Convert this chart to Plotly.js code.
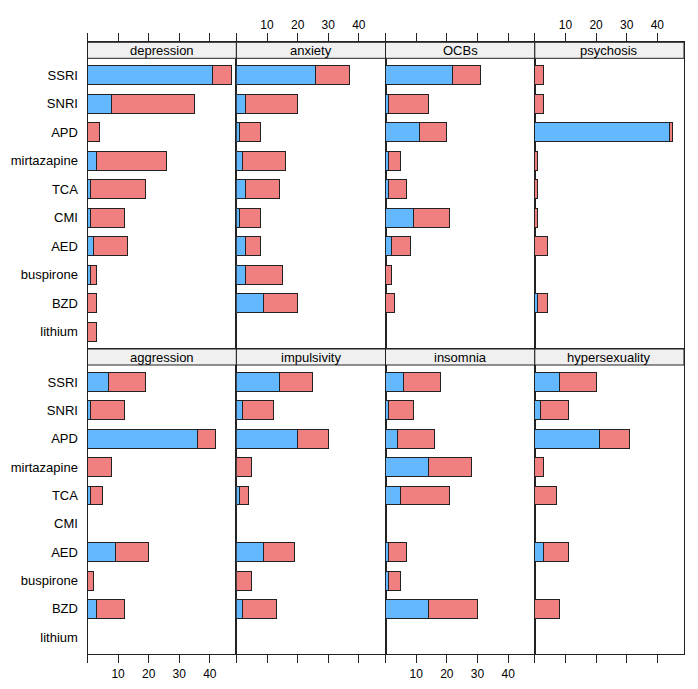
<!DOCTYPE html>
<html>
<head>
<meta charset="utf-8">
<script src="https://cdn.plot.ly/plotly-3.0.1.min.js"></script>
<style>html,body{margin:0;padding:0;background:#fff;}#chart{width:698px;height:689px;}</style>
</head>
<body>
<div id="chart"></div>
<script>
// ---- data ----
const drugs = ['SSRI','SNRI','APD','mirtazapine','TCA','CMI','AED','buspirone','BZD','lithium'];
const conditions = ['depression','anxiety','OCBs','psychosis','aggression','impulsivity','insomnia','hypersexuality'];
const tickValues = [0, 10, 20, 30, 40];
const tickLabels = ['', '10', '20', '30', '40'];

const blue_depression     = [41, 8, 0, 3, 1, 1, 2, 1, 0, 0];
const red_depression      = [6, 27, 4, 23, 18, 11, 11, 2, 3, 3];
const blue_anxiety        = [26, 3, 1, 2, 3, 1, 3, 3, 9, 0];
const red_anxiety         = [11, 17, 7, 14, 11, 7, 5, 12, 11, 0];
const blue_OCBs           = [22, 1, 11, 1, 1, 9, 2, 0, 0, 0];
const red_OCBs            = [9, 13, 9, 4, 6, 12, 6, 2, 3, 0];
const blue_psychosis      = [0, 0, 44, 0, 0, 0, 0, 0, 1, 0];
const red_psychosis       = [3, 3, 1, 1, 1, 1, 4, 0, 3, 0];
const blue_aggression     = [7, 1, 36, 0, 1, 0, 9, 0, 3, 0];
const red_aggression      = [12, 11, 6, 8, 4, 0, 11, 2, 9, 0];
const blue_impulsivity    = [14, 2, 20, 0, 1, 0, 9, 0, 2, 0];
const red_impulsivity     = [11, 10, 10, 5, 3, 0, 10, 5, 11, 0];
const blue_insomnia       = [6, 1, 4, 14, 5, 0, 1, 1, 14, 0];
const red_insomnia        = [12, 8, 12, 14, 16, 0, 6, 4, 16, 0];
const blue_hypersexuality = [8, 2, 21, 0, 0, 0, 3, 0, 0, 0];
const red_hypersexuality  = [12, 9, 10, 3, 7, 0, 8, 0, 8, 0];

const blueSeries = [blue_depression, blue_anxiety, blue_OCBs, blue_psychosis,
                    blue_aggression, blue_impulsivity, blue_insomnia, blue_hypersexuality];
const redSeries  = [red_depression, red_anxiety, red_OCBs, red_psychosis,
                    red_aggression, red_impulsivity, red_insomnia, red_hypersexuality];

// ---- layout geometry (pixels) ----
const W = 698, H = 689;
const colEdges = [87.5, 236.4, 385.5, 534.8, 684];
const rows = [
  {stripTop: 42.3, panelTop: 58.3, panelBottom: 349.0},
  {stripTop: 349.0, panelTop: 365.0, panelBottom: 654.3}
];
const xMax = 48.7;
const BLUE = '#63B8FF', RED = '#F08080', EDGE = '#222222';
const FONT = '"Liberation Sans", Arial, Helvetica, sans-serif';
const px = x => x / W;
const py = y => 1 - y / H;
const nz = arr => arr.map(v => (v === 0 ? null : v));

const data = [];
const layout = {
  width: W, height: H,
  margin: {l: 0, r: 0, t: 0, b: 0},
  paper_bgcolor: '#ffffff',
  plot_bgcolor: 'rgba(0,0,0,0)',
  barmode: 'stack',
  bargap: 1/3,
  showlegend: false,
  hovermode: false,
  font: {family: FONT, size: 12, color: '#000'},
  shapes: [],
  annotations: []
};

conditions.forEach((cond, i) => {
  const r = Math.floor(i / 4), c = i % 4;
  const suf = i === 0 ? '' : String(i + 1);
  const row = rows[r];
  const pxPerUnit = (row.panelBottom - row.panelTop) / 10.2;
  const extra = (row.panelTop - row.stripTop) / pxPerUnit;

  const common = {type: 'bar', orientation: 'h', y: drugs,
                  xaxis: 'x' + suf, yaxis: 'y' + suf, hoverinfo: 'skip'};
  data.push(Object.assign({}, common, {
    x: nz(blueSeries[i]), name: 'blue',
    marker: {color: BLUE, line: {color: EDGE, width: 1}}
  }));
  data.push(Object.assign({}, common, {
    x: nz(redSeries[i]), name: 'red',
    marker: {color: RED, line: {color: EDGE, width: 1}}
  }));

  const showX = (r === 0) ? (c === 1 || c === 3) : (c === 0 || c === 2);
  layout['xaxis' + suf] = {
    domain: [px(colEdges[c]), px(colEdges[c + 1])],
    anchor: 'y' + suf,
    range: [0, xMax],
    side: r === 0 ? 'top' : 'bottom',
    tickmode: 'array', tickvals: tickValues, ticktext: tickLabels,
    ticks: 'outside', ticklen: 8, tickwidth: 1, tickcolor: EDGE,
    showticklabels: showX,
    tickfont: {family: FONT, size: 12, color: '#000'},
    showline: true, mirror: true, linecolor: EDGE, linewidth: 1,
    showgrid: false, zeroline: false, automargin: false, fixedrange: true
  };
  layout['yaxis' + suf] = {
    domain: [py(row.panelBottom), py(row.stripTop)],
    anchor: 'x' + suf,
    type: 'category', categoryorder: 'array', categoryarray: drugs,
    range: [9.6, -0.6 - extra],
    ticks: '', showticklabels: c === 0,
    ticklabelstandoff: 6,
    tickfont: {family: FONT, size: 13, color: '#000'},
    showline: true, mirror: true, linecolor: EDGE, linewidth: 1,
    showgrid: false, zeroline: false, automargin: false, fixedrange: true
  };

  layout.shapes.push({
    type: 'rect', xref: 'paper', yref: 'paper', layer: 'above',
    x0: px(colEdges[c]), x1: px(colEdges[c + 1]),
    y0: py(row.panelTop), y1: py(row.stripTop),
    fillcolor: '#F0F0F0', line: {color: EDGE, width: 1}
  });
  layout.annotations.push({
    xref: 'paper', yref: 'paper', showarrow: false,
    x: px((colEdges[c] + colEdges[c + 1]) / 2),
    y: py((row.stripTop + row.panelTop) / 2),
    xanchor: 'center', yanchor: 'middle',
    text: cond, font: {family: FONT, size: 13, color: '#000'}
  });
});

Plotly.newPlot('chart', data, layout, {displayModeBar: false, staticPlot: true});
</script>
</body>
</html>
